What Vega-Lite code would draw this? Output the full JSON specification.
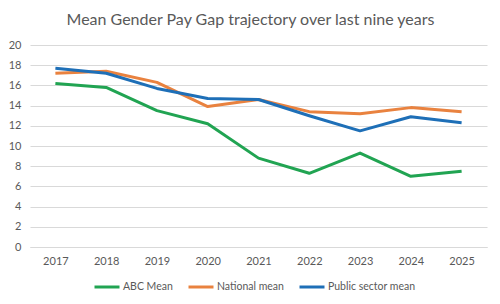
{
  "$schema": "https://vega.github.io/schema/vega-lite/v6.json",
  "autosize": "none",
  "width": 457,
  "height": 202,
  "padding": {"left": 30, "top": 45, "right": 13, "bottom": 57},
  "background": "white",
  "title": {
    "text": "Mean Gender Pay Gap trajectory over last nine years",
    "font": "Lato",
    "fontSize": 16,
    "fontWeight": "normal",
    "color": "#595959",
    "anchor": "middle",
    "dx": -8,
    "offset": 11
  },
  "data": {
    "values": [
      {"year": "2017", "series": "ABC Mean", "value": 16.2},
      {"year": "2018", "series": "ABC Mean", "value": 15.8},
      {"year": "2019", "series": "ABC Mean", "value": 13.5},
      {"year": "2020", "series": "ABC Mean", "value": 12.2},
      {"year": "2021", "series": "ABC Mean", "value": 8.8},
      {"year": "2022", "series": "ABC Mean", "value": 7.3},
      {"year": "2023", "series": "ABC Mean", "value": 9.3},
      {"year": "2024", "series": "ABC Mean", "value": 7.0},
      {"year": "2025", "series": "ABC Mean", "value": 7.5},
      {"year": "2017", "series": "National mean", "value": 17.2},
      {"year": "2018", "series": "National mean", "value": 17.4},
      {"year": "2019", "series": "National mean", "value": 16.3},
      {"year": "2020", "series": "National mean", "value": 13.9},
      {"year": "2021", "series": "National mean", "value": 14.6},
      {"year": "2022", "series": "National mean", "value": 13.4},
      {"year": "2023", "series": "National mean", "value": 13.2},
      {"year": "2024", "series": "National mean", "value": 13.8},
      {"year": "2025", "series": "National mean", "value": 13.4},
      {"year": "2017", "series": "Public sector mean", "value": 17.7},
      {"year": "2018", "series": "Public sector mean", "value": 17.2},
      {"year": "2019", "series": "Public sector mean", "value": 15.7},
      {"year": "2020", "series": "Public sector mean", "value": 14.7},
      {"year": "2021", "series": "Public sector mean", "value": 14.6},
      {"year": "2022", "series": "Public sector mean", "value": 13.0},
      {"year": "2023", "series": "Public sector mean", "value": 11.5},
      {"year": "2024", "series": "Public sector mean", "value": 12.9},
      {"year": "2025", "series": "Public sector mean", "value": 12.3}
    ]
  },
  "mark": {"type": "line", "strokeWidth": 3, "strokeJoin": "round", "strokeCap": "butt"},
  "encoding": {
    "x": {
      "field": "year",
      "type": "ordinal",
      "scale": {"type": "point", "padding": 0.5},
      "axis": {
        "title": null,
        "labelAngle": 0,
        "ticks": false,
        "domain": true,
        "domainColor": "#d9d9d9",
        "domainWidth": 1,
        "labelFont": "Lato",
        "labelFontSize": 11,
        "labelColor": "#595959",
        "labelPadding": 8,
        "grid": false
      }
    },
    "y": {
      "field": "value",
      "type": "quantitative",
      "scale": {"domain": [0, 20], "nice": false},
      "axis": {
        "title": null,
        "values": [0, 2, 4, 6, 8, 10, 12, 14, 16, 18, 20],
        "ticks": false,
        "domain": false,
        "gridColor": "#d9d9d9",
        "gridWidth": 1,
        "labelFont": "Lato",
        "labelFontSize": 11,
        "labelColor": "#595959",
        "labelPadding": 9
      }
    },
    "color": {
      "field": "series",
      "type": "nominal",
      "scale": {
        "domain": ["ABC Mean", "National mean", "Public sector mean"],
        "range": ["#21A452", "#E9823F", "#1E6FB7"]
      },
      "legend": {
        "title": null,
        "orient": "none",
        "direction": "horizontal",
        "legendX": 63,
        "legendY": 228,
        "symbolType": "stroke",
        "symbolSize": 625,
        "symbolStrokeWidth": 3,
        "labelFont": "Lato",
        "labelFontSize": 10.5,
        "labelColor": "#595959",
        "labelOffset": 2,
        "columnPadding": 9
      }
    }
  },
  "config": {
    "view": {"stroke": null}
  }
}
